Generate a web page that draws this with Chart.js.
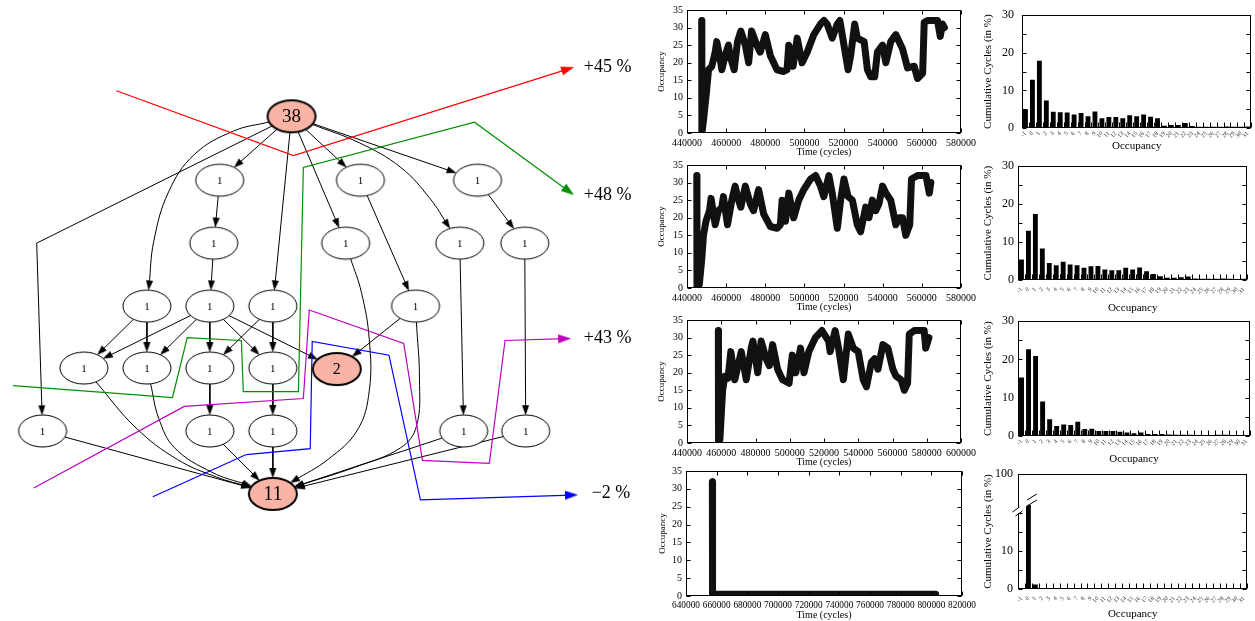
<!DOCTYPE html>
<html>
<head>
<meta charset="utf-8">
<title>Occupancy</title>
<script src="https://cdn.jsdelivr.net/npm/chart.js@4.4.1/dist/chart.umd.min.js"></script>
<style>
  html, body { margin: 0; padding: 0; background: #fff; }
  body { position: relative; width: 1255px; height: 621px; overflow: hidden; }
  canvas { position: absolute; }
</style>
</head>
<body>
<canvas id="graph" width="650" height="621" style="left:0;top:0"></canvas>
<canvas id="occ1" width="330" height="160" style="left:650px;top:0"></canvas>
<canvas id="occ2" width="330" height="160" style="left:650px;top:155px"></canvas>
<canvas id="occ3" width="330" height="160" style="left:650px;top:310px"></canvas>
<canvas id="occ4" width="330" height="161" style="left:650px;top:460px"></canvas>
<canvas id="hist1" width="280" height="160" style="left:975px;top:0"></canvas>
<canvas id="hist2" width="280" height="160" style="left:975px;top:155px"></canvas>
<canvas id="hist3" width="280" height="160" style="left:975px;top:310px"></canvas>
<canvas id="hist4" width="280" height="161" style="left:975px;top:460px"></canvas>
<script>
/* global Chart */

const SERIF = "'Liberation Serif', 'Times New Roman', serif";
Chart.defaults.font.family = SERIF;
Chart.defaults.color = '#000';

// ---- dependency graph (left) ----
const NODE_RX = 24;
const NODE_RY = 16;

const graphNodes = [
  { id: 'root', x: 291, y: 113, text: '38', hot: true, size: 19 },
  { id: 'b1', x: 218, y: 178, text: '1' },
  { id: 'b2', x: 361, y: 178, text: '1' },
  { id: 'b3', x: 480, y: 178, text: '1' },
  { id: 'c1', x: 212, y: 242, text: '1' },
  { id: 'c2', x: 346, y: 242, text: '1' },
  { id: 'c3', x: 462, y: 242, text: '1' },
  { id: 'c4', x: 528, y: 242, text: '1' },
  { id: 'd1', x: 144, y: 306, text: '1' },
  { id: 'd2', x: 208, y: 306, text: '1' },
  { id: 'd3', x: 272, y: 306, text: '1' },
  { id: 'd4', x: 417, y: 306, text: '1' },
  { id: 'e1', x: 80, y: 369, text: '1' },
  { id: 'e2', x: 144, y: 369, text: '1' },
  { id: 'e3', x: 208, y: 369, text: '1' },
  { id: 'e4', x: 272, y: 369, text: '1' },
  { id: 'n2', x: 337, y: 370, text: '2', hot: true, size: 16 },
  { id: 'f1', x: 38, y: 433, text: '1' },
  { id: 'f2', x: 208, y: 433, text: '1' },
  { id: 'f3', x: 272, y: 433, text: '1' },
  { id: 'f4', x: 466, y: 433, text: '1' },
  { id: 'f5', x: 529, y: 433, text: '1' },
  { id: 'n11', x: 272, y: 497, text: '11', hot: true, size: 20 },
];

// [from, to, waypoints, tension]
const graphEdges = [
  ['root', 'b1'],
  ['root', 'd1', [[232, 128], [192, 152], [166, 190], [151, 240]], 0.4],
  ['root', 'f1', [[32, 242]], 0],
  ['root', 'd3'],
  ['root', 'c2'],
  ['root', 'b2'],
  ['root', 'c3', [[360, 140], [402, 165], [432, 197]], 0.4],
  ['root', 'b3'],
  ['b1', 'c1'],
  ['b2', 'd4'],
  ['b3', 'c4'],
  ['c1', 'd2'],
  ['c2', 'n11', [[362, 292], [370, 340], [370, 392], [358, 432], [328, 462]], 0.4],
  ['c3', 'f4'],
  ['c4', 'f5'],
  ['d1', 'e1'], ['d1', 'e2'],
  ['d2', 'e1'], ['d2', 'e2'], ['d2', 'e3'], ['d2', 'e4'], ['d2', 'n2'],
  ['d3', 'e3'], ['d3', 'e4'],
  ['d4', 'n2'],
  ['d4', 'n11', [[421, 380], [418, 428], [402, 450], [355, 470]], 0.4],
  ['e1', 'n11', [[133, 430], [175, 462], [215, 480]], 0.4],
  ['e2', 'n11', [[156, 420], [172, 450], [210, 475]], 0.4],
  ['e3', 'f2'], ['e4', 'f3'],
  ['f1', 'n11'], ['f2', 'n11'], ['f3', 'n11'], ['f4', 'n11'], ['f5', 'n11'],
];

const cutPaths = [
  { label: '+45 %', color: '#ff0000', lx: 588, ly: 63,
    pts: [[113, 87], [293, 153], [578, 63]] },
  { label: '+48 %', color: '#008f00', lx: 588, ly: 193,
    pts: [[8, 387], [170, 399], [185, 338], [240, 341], [242, 393], [298, 393], [303, 165], [477, 119], [578, 193]] },
  { label: '+43 %', color: '#bf00bf', lx: 588, ly: 339,
    pts: [[29, 491], [182, 408], [303, 400], [309, 310], [405, 344], [424, 463], [492, 466], [508, 341], [575, 339]] },
  { label: '\u22122 %', color: '#0000ff', lx: 596, ly: 496,
    pts: [[150, 500], [245, 457], [310, 451], [312, 342], [390, 356], [422, 503], [582, 498]] },
];

// ---- occupancy traces: [time (cycles), occupancy] ----
const run1Trace = [
  [447500, 32], [447600, 0], [448500, 4], [450000, 12], [451000, 18], [452700, 19], [454400, 23],
  [455200, 26], [457000, 21], [457800, 18], [459500, 22], [461200, 25], [462000, 22], [464100, 18],
  [465800, 26], [467500, 29], [469800, 25], [471500, 20], [473000, 29], [475700, 25], [477400, 23],
  [480000, 28], [482600, 22], [486000, 18], [489400, 17.5], [491100, 18], [492000, 25], [494200, 19],
  [496300, 27], [498800, 20], [501400, 23], [504800, 28], [508200, 31], [510000, 32], [511600, 31],
  [514200, 27], [516800, 31], [518100, 32], [520200, 25], [522300, 18], [523600, 22], [525700, 31],
  [527000, 27], [530500, 26], [532200, 18], [533900, 16], [535900, 16], [537300, 23], [539900, 25],
  [541600, 20], [544100, 26], [546700, 28], [548400, 26], [550100, 24], [552700, 18.5], [556100, 19],
  [557800, 15.5], [560400, 17], [561200, 31.5], [562900, 32], [566300, 32], [568000, 32],
  [569400, 27.5], [570500, 31], [571500, 30],
];
const run2Trace = [
  [445000, 32], [445100, 0], [446300, 1], [447500, 8], [448400, 15], [449700, 19], [451500, 22],
  [452300, 25.5], [454400, 18], [456000, 22], [457800, 23], [458600, 26], [460700, 18], [462900, 25],
  [464600, 29], [465800, 26], [467500, 23], [469800, 29], [472300, 24], [474000, 22], [476600, 28],
  [479200, 21], [482600, 17.5], [486000, 17], [487700, 18], [488600, 25], [490300, 19], [492000, 27],
  [494500, 20], [497100, 25], [499700, 28], [503100, 31], [505700, 32], [508200, 29], [509900, 26],
  [512500, 32], [514200, 27], [516800, 17], [518500, 25], [520200, 31], [522300, 26], [524500, 25],
  [527000, 18], [528700, 16], [531300, 23], [533000, 20], [534700, 25], [536400, 22], [538100, 24],
  [539900, 29], [541600, 27], [544100, 25], [546700, 18], [548400, 20], [550100, 20], [551800, 15],
  [553800, 18], [554700, 31], [557800, 32], [562100, 32], [563800, 27], [564600, 30],
];
const run3Trace = [
  [458300, 32], [458400, 0], [459200, 1], [460800, 15], [462100, 19], [464000, 18.5], [465600, 26],
  [467900, 18], [469800, 22], [471700, 26], [474600, 18], [477500, 27], [478500, 29], [481300, 20],
  [483300, 29], [486200, 24], [488100, 22], [490000, 28], [492900, 21], [495800, 18], [499600, 17],
  [501500, 25], [503500, 20], [506300, 27], [508300, 20], [511100, 26], [515000, 30], [518800, 32],
  [522700, 29], [523600, 26], [526500, 32], [528500, 27], [531300, 18], [534200, 31], [537100, 27],
  [540000, 26], [542900, 18], [544800, 16], [547700, 23], [549600, 24], [551500, 21], [554400, 28],
  [557300, 27], [560200, 21], [562100, 19], [565000, 18], [566900, 15], [568800, 17], [569800, 31],
  [572700, 32], [578500, 32], [579400, 27], [581300, 30],
];
const run4Trace = [
  [657200, 32], [657300, 0], [658000, 0.5], [802800, 0.5],
];
const occYTicks = [0, 5, 10, 15, 20, 25, 30, 35];

// ---- occupancy histograms (% of cycles) ----
const occLabels = ['-1', '0', '1', '2', '3', '4', '5', '6', '7', '8', '9', '10', '11', '12', '13', '14', '15',
  '16', '17', '18', '19', '20', '21', '22', '23', '24', '25', '26', '27', '28', '29', '30', '31'];
const hist1Values = [5.0, 12.8, 17.9, 7.3, 4.3, 4.2, 4.1, 3.6, 4.0, 3.1, 4.4, 2.6, 2.9, 2.9, 2.6, 3.4, 3.1,
  3.6, 3.0, 2.6, 0.6, 0.8, 0.8, 1.3, 0.5, 0.3, 0.3, 0.3, 0.3, 0.4, 0.3, 0.3, 0.4];
const hist2Values = [5.4, 13.0, 17.4, 8.3, 4.5, 3.9, 4.8, 4.1, 3.9, 3.2, 3.6, 3.7, 2.8, 2.6, 2.6, 3.2, 2.8,
  3.3, 2.3, 1.6, 1.0, 0.6, 0.6, 0.7, 0.9, 0.4, 0.3, 0.3, 0.3, 0.4, 0.3, 0.2, 0.3];
const hist3Values = [15.3, 22.7, 20.9, 9.0, 4.4, 2.6, 3.0, 2.9, 3.7, 1.8, 1.9, 1.3, 1.3, 1.3, 1.1, 0.9, 0.7,
  0.9, 0.5, 0.5, 0.5, 0.4, 0.3, 0.3, 0.3, 0.2, 0.2, 0.2, 0.3, 0.3, 0.2, 0.2, 0.2];
const hist4Values = [0, 100, 1.2, 0, 0, 0, 0, 0, 0, 0, 0, 0, 0, 0, 0, 0, 0,
  0, 0, 0, 0, 0, 0, 0, 0, 0, 0, 0, 0, 0, 0, 0, 0];
const histYTicks = [0, 5, 10, 15, 20, 25, 30];

// ---------------------------------------------------------------

function nodeSprite(fill, lw) {
  const c = document.createElement('canvas');
  c.width = NODE_RX * 2 + 4;
  c.height = NODE_RY * 2 + 4;
  const g = c.getContext('2d');
  g.beginPath();
  g.ellipse(c.width / 2, c.height / 2, NODE_RX, NODE_RY, 0, 0, Math.PI * 2);
  g.fillStyle = fill;
  g.fill();
  g.lineWidth = lw;
  g.strokeStyle = '#000';
  g.stroke();
  return c;
}

function arrowSprite(len, wid, color) {
  const c = document.createElement('canvas');
  c.width = Math.ceil(wid) + 2;
  c.height = len;
  const g = c.getContext('2d');
  g.beginPath();
  g.moveTo(c.width / 2, 0);
  g.lineTo(c.width / 2 + wid / 2, len);
  g.lineTo(c.width / 2 - wid / 2, len);
  g.closePath();
  g.fillStyle = color;
  g.fill();
  return c;
}

const nodeById = Object.fromEntries(graphNodes.map((n) => [n.id, n]));

function onEllipse(c, p) {
  const dx = p[0] - c.x;
  const dy = p[1] - c.y;
  const t = 1 / Math.sqrt((dx / NODE_RX) ** 2 + (dy / NODE_RY) ** 2);
  return [c.x + dx * t, c.y + dy * t];
}

function edgePoints(e) {
  const [from, to, via = []] = e;
  const a = nodeById[from];
  const b = nodeById[to];
  const first = via.length ? via[0] : [b.x, b.y];
  const last = via.length ? via[via.length - 1] : [a.x, a.y];
  return [onEllipse(a, first), ...via, onEllipse(b, last)];
}

// line with an arrow head at its last point; head sprite is centred on the point
function arrowDataset(points, color, tension, sprite, width, order) {
  const n = points.length;
  const [px, py] = points[n - 2];
  const [tx, ty] = points[n - 1];
  const len = Math.hypot(tx - px, ty - py);
  const ux = (tx - px) / len;
  const uy = (ty - py) / len;
  const data = points.slice(0, n - 1).map(([x, y]) => ({ x, y }));
  data.push({ x: tx - ux * sprite.height / 2, y: ty - uy * sprite.height / 2 });
  return {
    data,
    showLine: true,
    borderColor: color,
    borderWidth: width,
    tension,
    pointStyle: sprite,
    pointRotation: Math.atan2(ux, -uy) * 180 / Math.PI,
    pointRadius: (ctx) => (ctx.dataIndex === n - 1 ? 1 : 0),
    order,
  };
}

const graphText = {
  id: 'graphText',
  afterDatasetsDraw(chart) {
    const { ctx, scales: { x, y } } = chart;
    ctx.save();
    ctx.fillStyle = '#000';
    ctx.textAlign = 'center';
    ctx.textBaseline = 'middle';
    graphNodes.forEach((n) => {
      ctx.font = `${n.size || 11}px ${SERIF}`;
      ctx.fillText(n.text, x.getPixelForValue(n.x), y.getPixelForValue(n.y) + 1);
    });
    ctx.textAlign = 'left';
    ctx.font = `18px ${SERIF}`;
    cutPaths.forEach((p) => ctx.fillText(p.label, x.getPixelForValue(p.lx), y.getPixelForValue(p.ly)));
    ctx.restore();
  },
};

function renderGraph() {
  const plain = nodeSprite('#ffffff', 1);
  const hot = nodeSprite('#fab4a5', 2);
  const edgeHead = arrowSprite(10, 7, '#000');
  const datasets = [
    {
      data: graphNodes.map((n) => ({ x: n.x, y: n.y })),
      pointStyle: graphNodes.map((n) => (n.hot ? hot : plain)),
      pointRadius: 3,
      showLine: false,
      order: 0,
    },
    ...cutPaths.map((p) => arrowDataset(p.pts, p.color, 0, arrowSprite(13, 9, p.color), 1.2, 1)),
    ...graphEdges.map((e) => arrowDataset(edgePoints(e), '#000', e[3] || 0, edgeHead, 1, 2)),
  ];
  new Chart(document.getElementById('graph'), {
    type: 'scatter',
    data: { datasets },
    options: {
      responsive: false,
      animation: false,
      events: [],
      layout: { padding: 0 },
      plugins: { legend: { display: false }, tooltip: { enabled: false } },
      scales: {
        x: { type: 'linear', min: 0, max: 650, display: false },
        y: { type: 'linear', min: 0, max: 621, reverse: true, display: false },
      },
    },
    plugins: [graphText],
  });
}

// gnuplot-like frame with inward tick marks
function frameTicks(cfg) {
  return {
    id: 'frameTicks',
    afterDraw(chart) {
      const { ctx, chartArea: a, scales } = chart;
      const L = Math.round(a.left) + 0.5;
      const R = Math.round(a.right) - 0.5;
      const T = Math.round(a.top) + 0.5;
      const B = Math.round(a.bottom) - 0.5;
      const xs = scales.x;
      let xPix;
      if (cfg.xBounds) {
        const n = xs.getLabels().length;
        xPix = Array.from({ length: n + 1 }, (_, i) => xs.getPixelForValue(i - 0.5));
      } else {
        xPix = xs.ticks.map((t) => xs.getPixelForValue(t.value));
      }
      ctx.save();
      ctx.strokeStyle = '#000';
      ctx.lineWidth = 1;
      ctx.beginPath();
      xPix.forEach((px) => {
        const p = Math.round(px) + 0.5;
        ctx.moveTo(p, B);
        ctx.lineTo(p, B - cfg.xLen);
        if (cfg.top) {
          ctx.moveTo(p, T);
          ctx.lineTo(p, T + cfg.xLen);
        }
      });
      cfg.yTicks.forEach(([id, values]) => {
        const ys = scales[id];
        values.forEach((v) => {
          const p = Math.round(ys.getPixelForValue(v)) + 0.5;
          ctx.moveTo(L, p);
          ctx.lineTo(L + cfg.yLen, p);
          ctx.moveTo(R, p);
          ctx.lineTo(R - cfg.yLen, p);
        });
      });
      ctx.stroke();
      ctx.strokeRect(L, T, R - L, B - T);
      ctx.restore();
    },
  };
}

const noGrid = { display: false, drawTicks: false };

function occupancyChart(id, trace, xMin, xMax, box) {
  const canvas = document.getElementById(id);
  new Chart(canvas, {
    type: 'scatter',
    data: {
      datasets: [{
        data: trace.map(([t, v]) => ({ x: t, y: v })),
        showLine: true,
        borderColor: '#111',
        borderWidth: 7,
        borderJoinStyle: 'round',
        borderCapStyle: 'round',
        pointRadius: 0,
        tension: 0,
      }],
    },
    options: {
      responsive: false,
      animation: false,
      events: [],
      layout: { padding: { left: 0, top: box.t, right: canvas.width - box.r, bottom: 0 } },
      plugins: { legend: { display: false }, tooltip: { enabled: false } },
      scales: {
        x: {
          type: 'linear',
          min: xMin,
          max: xMax,
          grid: noGrid,
          border: { display: false },
          ticks: { stepSize: 20000, autoSkip: false, maxRotation: 0, padding: 4, font: { size: box.xFont || 10 }, callback: (v) => String(v) },
          title: { display: true, text: 'Time (cycles)', font: { size: 10 }, padding: { top: 0, bottom: canvas.height - 6 - box.xTitle } },
          afterFit: (s) => { s.height = canvas.height - box.b; },
        },
        y: {
          type: 'linear',
          min: 0,
          max: 35,
          grid: noGrid,
          border: { display: false },
          ticks: { stepSize: 5, padding: 4, font: { size: 10 } },
          title: { display: true, text: 'Occupancy', font: { size: 9 }, padding: { top: box.yTitle - 5.4, bottom: 0 } },
          afterFit: (s) => { s.width = box.l; },
        },
      },
    },
    plugins: [frameTicks({ xLen: 4, yLen: 4, top: true, yTicks: [['y', occYTicks]] })],
  });
}

// broken y axis marks for the last histogram + its axis title
function axisBreak(box) {
  return {
    id: 'axisBreak',
    afterDraw(chart) {
      const { ctx, chartArea: a, scales } = chart;
      const seam = scales.y2.bottom;
      const bar = chart.getDatasetMeta(0).data[1];
      const L = Math.round(a.left) + 0.5;
      ctx.save();
      // gap in the left axis
      ctx.fillStyle = '#fff';
      ctx.fillRect(L - 2, seam + 3, 4, 5);
      ctx.strokeStyle = '#000';
      ctx.lineWidth = 1;
      ctx.beginPath();
      ctx.moveTo(L - 6, seam + 7); ctx.lineTo(L + 1, seam + 2);
      ctx.moveTo(L - 3, seam + 11); ctx.lineTo(L + 4, seam + 6);
      ctx.stroke();
      // gap through the tall bar
      const x0 = bar.x - bar.width / 2 - 1;
      const x1 = bar.x + bar.width / 2 + 6;
      const gy = seam - 6;
      ctx.beginPath();
      ctx.moveTo(x0, gy + 2); ctx.lineTo(x1, gy - 5);
      ctx.lineTo(x1, gy + 1); ctx.lineTo(x0, gy + 8);
      ctx.closePath();
      ctx.fill();
      ctx.beginPath();
      ctx.moveTo(x0 + 2, gy + 1); ctx.lineTo(x1, gy - 5);
      ctx.moveTo(x0 + 2, gy + 7); ctx.lineTo(x1, gy + 1);
      ctx.stroke();
      // axis title centred on the whole stacked axis
      ctx.translate(box.yTitle, (a.top + a.bottom) / 2);
      ctx.rotate(-Math.PI / 2);
      ctx.fillStyle = '#000';
      ctx.font = `11px ${SERIF}`;
      ctx.textAlign = 'center';
      ctx.textBaseline = 'middle';
      ctx.fillText('Cumulative Cycles (in %)', 0, 0);
      ctx.restore();
    },
  };
}

function histogramChart(id, values, box, broken) {
  const canvas = document.getElementById(id);
  const tickFont = { size: 12 };
  const yFit = (s) => { s.width = box.l; };
  const scales = {
    x: {
      type: 'category',
      labels: occLabels,
      offset: true,
      grid: { ...noGrid, offset: true },
      border: { display: false },
      ticks: { autoSkip: false, minRotation: 45, maxRotation: 45, padding: box.xPad, font: { size: 6 }, color: '#333' },
      title: { display: true, text: 'Occupancy', font: { size: 11 }, padding: { top: 0, bottom: canvas.height - 6.6 - box.xTitle } },
      afterFit: (s) => { s.height = canvas.height - box.b; },
    },
  };
  let yTicks;
  if (broken) {
    scales.y = {
      type: 'linear', position: 'left', stack: 'cycles', stackWeight: 84, weight: 0,
      min: 0, max: 22, grid: noGrid, border: { display: false },
      ticks: { stepSize: 10, padding: box.yPad, font: tickFont, callback: (v) => (v === 0 || v === 10 ? String(v) : '') },
      afterFit: yFit,
    };
    scales.y2 = {
      type: 'linear', position: 'left', stack: 'cycles', stackWeight: 31, weight: 1,
      min: 90, max: 100, grid: noGrid, border: { display: false },
      ticks: { stepSize: 10, padding: box.yPad, font: tickFont, callback: (v) => (v === 100 ? '100' : '') },
      afterFit: yFit,
    };
    yTicks = [['y', [0, 5, 10, 15, 20]], ['y2', [100]]];
  } else {
    scales.y = {
      type: 'linear', min: 0, max: 30, grid: noGrid, border: { display: false },
      ticks: { stepSize: 10, padding: box.yPad, font: tickFont },
      title: { display: true, text: 'Cumulative Cycles (in %)', font: { size: 11 }, padding: { top: box.yTitle - 6.6, bottom: 0 } },
      afterFit: yFit,
    };
    yTicks = [['y', histYTicks]];
  }
  const plugins = [frameTicks({ xBounds: true, xLen: 5, yLen: 4, top: false, yTicks })];
  if (broken) plugins.push(axisBreak(box));
  new Chart(canvas, {
    type: 'bar',
    data: {
      labels: occLabels,
      datasets: [{
        data: values,
        backgroundColor: '#000',
        barPercentage: 0.7,
        categoryPercentage: 1,
        clip: 0,
      }],
    },
    options: {
      responsive: false,
      animation: false,
      events: [],
      layout: { padding: { left: 0, top: box.t, right: canvas.width - box.r, bottom: 0 } },
      plugins: { legend: { display: false }, tooltip: { enabled: false } },
      scales,
    },
    plugins,
  });
}

renderGraph();

occupancyChart('occ1', run1Trace, 440000, 580000, { l: 37, r: 313, t: 7, b: 133, xTitle: 152, yTitle: 12 });
occupancyChart('occ2', run2Trace, 440000, 580000, { l: 37, r: 313, t: 7, b: 133, xTitle: 152, yTitle: 12 });
occupancyChart('occ3', run3Trace, 440000, 600000, { l: 37, r: 314, t: 8, b: 133, xTitle: 152, yTitle: 12 });
occupancyChart('occ4', run4Trace, 640000, 820000, { l: 36, r: 315, t: 11, b: 136, xTitle: 155, yTitle: 13, xFont: 9.3 });

histogramChart('hist1', hist1Values, { l: 47, r: 277, t: 12, b: 128, xTitle: 146, yTitle: 13, yPad: 8, xPad: 2 });
histogramChart('hist2', hist2Values, { l: 43, r: 276, t: 10, b: 125, xTitle: 153, yTitle: 13, yPad: 4, xPad: 6 });
histogramChart('hist3', hist3Values, { l: 43, r: 275, t: 10, b: 126, xTitle: 149, yTitle: 13, yPad: 4, xPad: 2 });
histogramChart('hist4', hist4Values, { l: 43, r: 275, t: 14, b: 129, xTitle: 154, yTitle: 13, yPad: 5, xPad: 6 }, true);
</script>
</body>
</html>
